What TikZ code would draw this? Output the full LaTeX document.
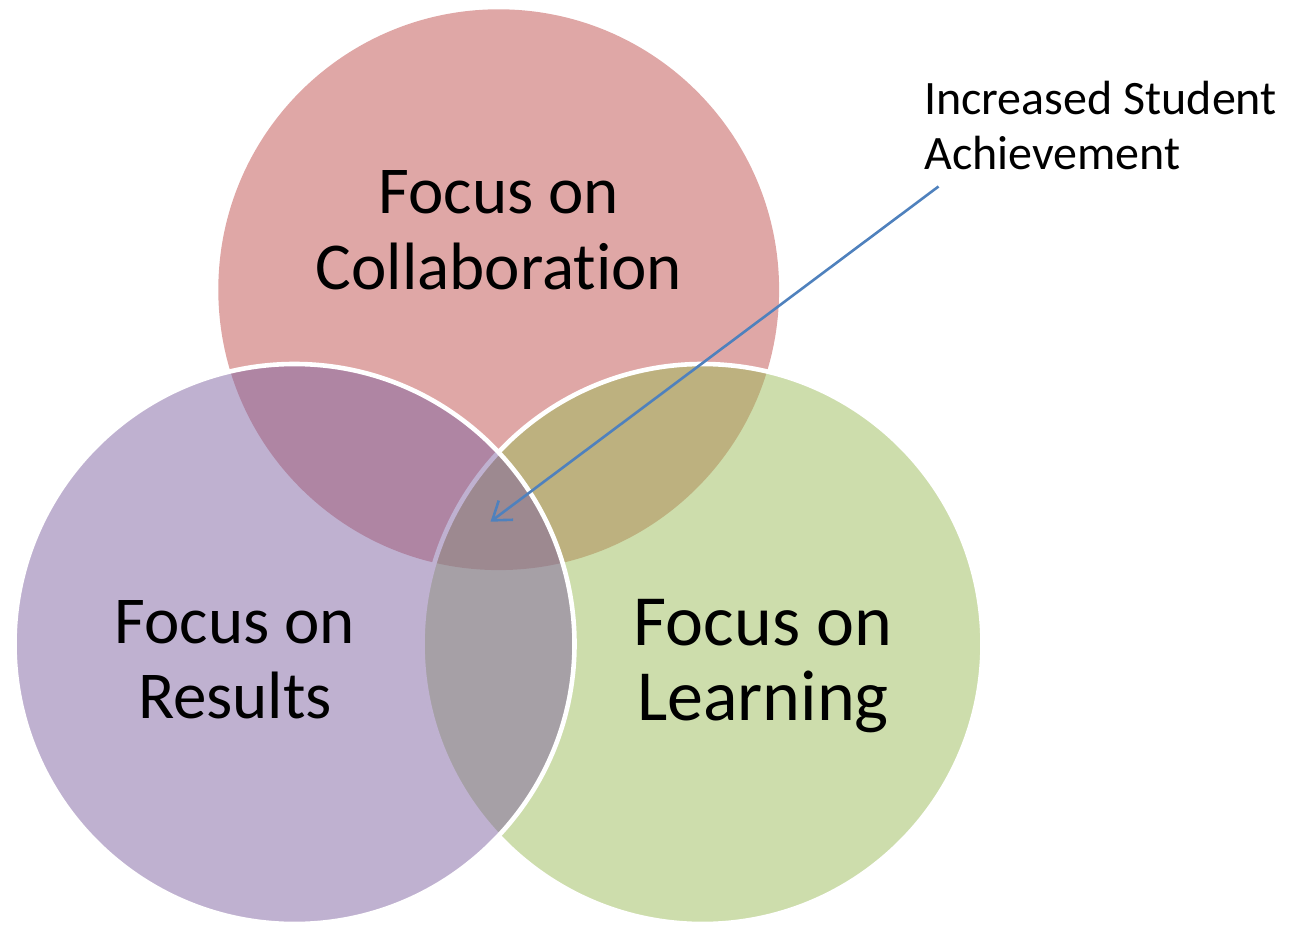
\documentclass[tikz,border=0pt]{standalone}
\usepackage{fontspec}
\setmainfont{Carlito}[Ligatures=NoCommon]
\usetikzlibrary{arrows.meta}
\definecolor{topred}{HTML}{C0504D}
\definecolor{leftpurple}{HTML}{8064A2}
\definecolor{rightgreen}{HTML}{9BBB59}
\definecolor{arrowblue}{HTML}{4F81BD}
\begin{document}
\begin{tikzpicture}[x=1pt,y=-1pt,
  venn/.style={fill opacity=0.5, draw opacity=1},
  biglabel/.style={align=center, inner sep=0pt, anchor=base, text=black, text opacity=1},
  smalllabel/.style={align=left, inner sep=0pt, anchor=base west, font=\fontsize{48}{55}\selectfont},
  pointer/.style={draw=arrowblue, line width=2.6pt, -{Straight Barb[length=17pt, width=24pt, line width=2.6pt]}}
]
\useasboundingbox (0,0) rectangle (1299,925);
% circles: top, right, left (drawing order as in the reference)
\fill[venn, topred] (498.7,289.7) circle[radius=280.4pt];
\path[venn, fill=rightgreen, draw=white, line width=4.6pt] (702.5,644) circle[radius=280pt];
\path[venn, fill=leftpurple, draw=white, line width=4.6pt] (294.5,644) circle[radius=280pt];
% labels (anchor base = baseline of the last line)
\node[biglabel, font=\fontsize{67}{76}\selectfont] (collab) at (499,290) {Focus on\\Collaboration};
\node[biglabel, font=\fontsize{67}{75}\selectfont] (results) at (235,718) {Focus on\\Results};
\node[biglabel, font=\fontsize{72}{75}\selectfont] (learning) at (763,720) {Focus on\\Learning};
\node[smalllabel] (ach) at (924,170) {Increased Student\\Achievement};
% pointer
\coordinate (start) at (938.5,186.5);
\coordinate (core) at (490.5,521.7);
\draw[pointer] (start) -- (core);
\end{tikzpicture}
\end{document}
